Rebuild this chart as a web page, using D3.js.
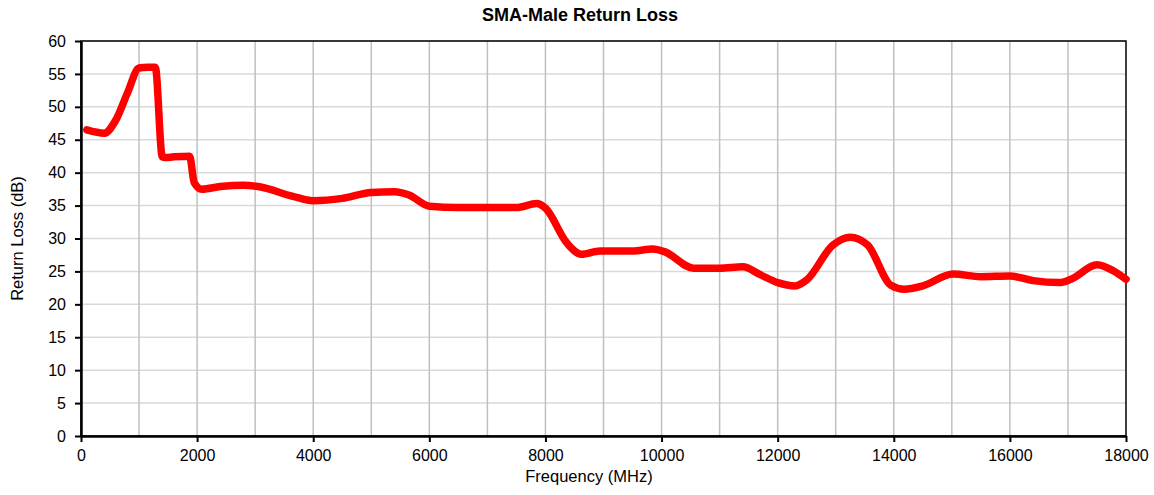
<!DOCTYPE html>
<html>
<head>
<meta charset="utf-8">
<script src="https://cdn.jsdelivr.net/npm/d3@7"></script>
<style>
  body { margin: 0; background: #fff; }
  svg { font-family: "Liberation Sans", Arial, sans-serif; }
</style>
</head>
<body>
<div id="chart"></div>
<script>
// data
var freqMHz = [100, 400, 600, 800, 1000, 1150, 1280, 1400, 1450, 1600, 1870, 1950, 2080, 2400, 2800, 3050,
    3650, 4000, 4500, 5000, 5400, 5650, 6000, 6500, 7500, 7850, 8000, 8370, 8620, 8940, 9500, 9850,
    10050, 10550, 11000, 11400, 11700, 12000, 12300, 12500, 12950, 13250, 13550, 13950, 14180, 14500,
    15020, 15500, 16000, 16400, 16850, 17050, 17500, 17780, 18000];
var returnLoss = [46.5, 46.0, 48.0, 52.1, 55.9, 56.0, 56.0, 42.4, 42.3, 42.4, 42.5, 38.5, 37.5, 37.9, 38.1, 37.9,
    36.4, 35.75, 36.1, 37.0, 37.1, 36.6, 34.9, 34.7, 34.7, 35.3, 34.6, 29.3, 27.6, 28.1, 28.1, 28.4,
    28.0, 25.5, 25.5, 25.7, 24.5, 23.3, 22.8, 23.7, 29.0, 30.2, 29.0, 22.9, 22.3, 22.8,
    24.6, 24.2, 24.3, 23.6, 23.3, 23.8, 26.0, 25.1, 23.8];
var xTicks = [0, 2000, 4000, 6000, 8000, 10000, 12000, 14000, 16000, 18000];
var xGrid = d3.range(1000, 18000, 1000);
var yTicks = [0, 5, 10, 15, 20, 25, 30, 35, 40, 45, 50, 55, 60];

var data = freqMHz.map(function (f, i) { return {f: f, v: returnLoss[i]}; });

var W = 1154, H = 495;
var margin = {top: 41, right: 28, bottom: 59, left: 81},
    width = W - margin.left - margin.right,
    height = H - margin.top - margin.bottom;

var svg = d3.select("#chart").append("svg")
    .attr("width", W)
    .attr("height", H);

var g = svg.append("g")
    .attr("transform", "translate(" + margin.left + "," + margin.top + ")");

var x = d3.scaleLinear().domain([0, 18000]).range([0, width]);
var y = d3.scaleLinear().domain([0, 60]).range([height, 0]);

// horizontal grid
g.selectAll(".hgrid")
    .data(yTicks.slice(1))
    .enter().append("line")
    .attr("x1", 0).attr("x2", width)
    .attr("y1", function (d) { return y(d); })
    .attr("y2", function (d) { return y(d); })
    .attr("stroke", "#d9d9d9")
    .attr("stroke-width", 1.5);

// vertical grid
g.selectAll(".vgrid")
    .data(xGrid)
    .enter().append("line")
    .attr("x1", function (d) { return x(d); })
    .attr("x2", function (d) { return x(d); })
    .attr("y1", 0).attr("y2", height)
    .attr("stroke", "#c0c0c0")
    .attr("stroke-width", 1.5);

// plot border
g.append("rect")
    .attr("width", width).attr("height", height)
    .attr("fill", "none")
    .attr("stroke", "#000")
    .attr("stroke-width", 1.5);

// axes
var xAxis = g.append("g")
    .attr("transform", "translate(0," + height + ")")
    .call(d3.axisBottom(x).tickValues(xTicks).tickFormat(d3.format("d"))
        .tickSize(6).tickPadding(8).tickSizeOuter(0));
var yAxis = g.append("g")
    .call(d3.axisLeft(y).tickValues(yTicks).tickSize(6).tickPadding(9).tickSizeOuter(0));

[xAxis, yAxis].forEach(function (a) {
    a.attr("font-size", null).attr("font-family", null);
    a.select(".domain").attr("stroke", "#000").attr("stroke-width", 2.5);
    a.selectAll(".tick line").attr("stroke", "#000").attr("stroke-width", 2);
    a.selectAll(".tick text").attr("fill", "#000").style("font-size", "16px");
});

// the curve
var line = d3.line()
    .x(function (d) { return x(d.f); })
    .y(function (d) { return y(d.v); })
    .curve(d3.curveMonotoneX);

g.append("path")
    .datum(data)
    .attr("d", line)
    .attr("fill", "none")
    .attr("stroke", "#ff0000")
    .attr("stroke-width", 7.5)
    .attr("stroke-linejoin", "round")
    .attr("stroke-linecap", "round");

// titles
svg.append("text")
    .attr("x", 580)
    .attr("y", 21)
    .attr("text-anchor", "middle")
    .style("font-size", "18px")
    .style("font-weight", "bold")
    .text("SMA-Male Return Loss");

svg.append("text")
    .attr("x", 589)
    .attr("y", 482)
    .attr("text-anchor", "middle")
    .style("font-size", "16.5px")
    .text("Frequency (MHz)");

svg.append("text")
    .attr("transform", "translate(23," + (margin.top + height / 2) + ") rotate(-90)")
    .attr("text-anchor", "middle")
    .style("font-size", "16.5px")
    .text("Return Loss (dB)");
</script>
</body>
</html>
